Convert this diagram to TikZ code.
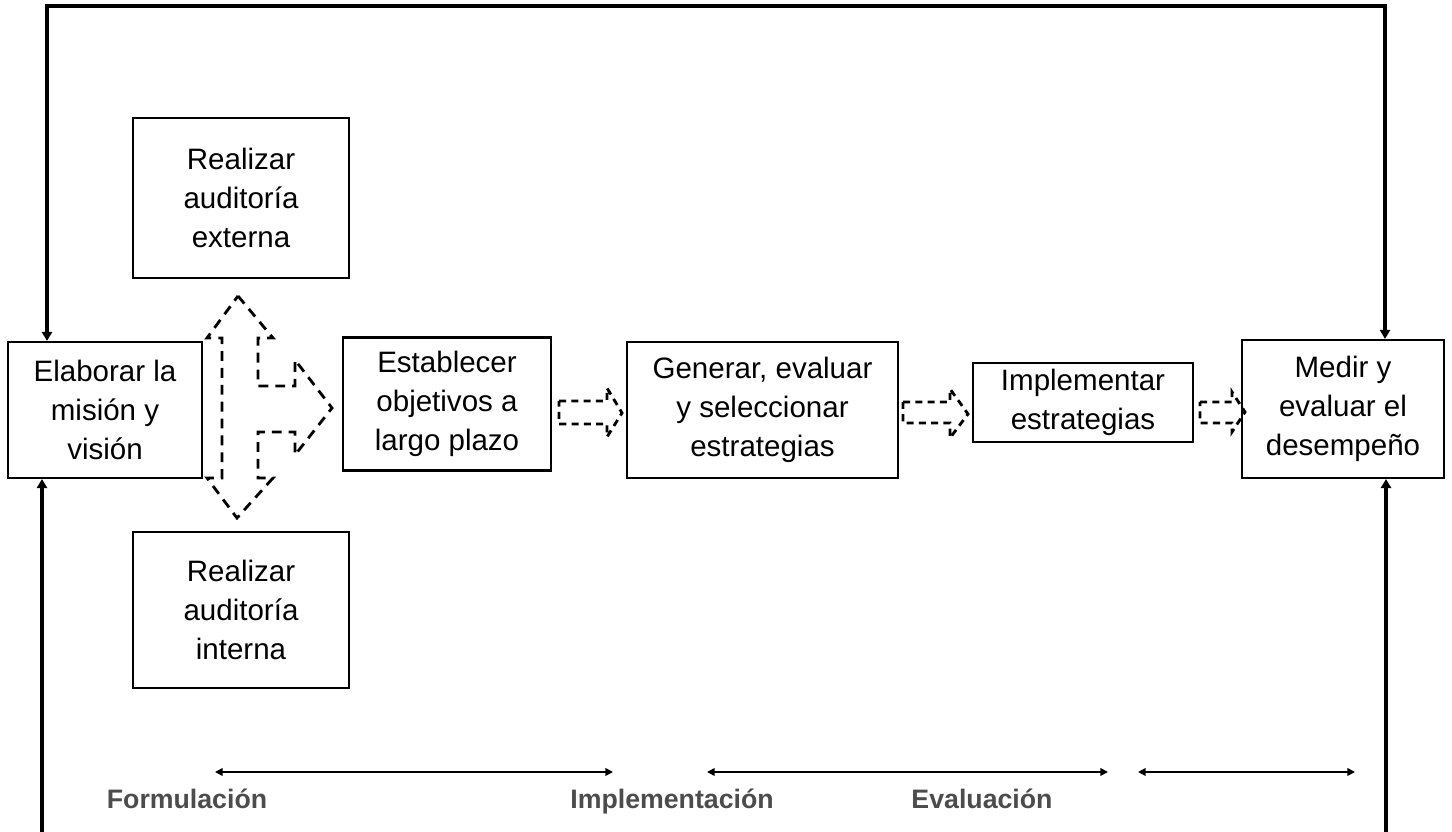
\documentclass[tikz,border=0pt]{standalone}
\usepackage{fontspec}
\setmainfont{Liberation Sans}
\usetikzlibrary{arrows.meta}
\definecolor{fasegray}{rgb}{.3,.3,.3}

\begin{document}
\begin{tikzpicture}[
    caja/.style={draw,line width=0.6pt,align=center,inner sep=0pt,
      font=\fontsize{8.4}{11}\selectfont},
    bloque/.style={dash pattern=on 2.8pt off 2pt,line width=0.8pt},
    bloquito/.style={dash pattern=on 2pt off 1.5pt,line width=0.8pt},
    retro/.style={line width=0.9pt,{Triangle[length=2.6pt,width=2.9pt]}-{Triangle[length=2.6pt,width=2.9pt]}},
    entra/.style={line width=0.9pt,-{Triangle[length=2.6pt,width=2.9pt]}},
    etapa/.style={line width=0.5pt,{Triangle[length=2.2pt,width=2.2pt]}-{Triangle[length=2.2pt,width=2.2pt]}},
    fase/.style={font=\bfseries\fontsize{7.6}{9}\selectfont,text=fasegray,anchor=base}]
  \useasboundingbox (0,0) rectangle (14.52,8.32);

  % cajas
  \node[caja,minimum width=1.94cm,minimum height=1.36cm] (mision) at (1.05,4.22)
    {Elaborar la\\misión y\\visión};
  \node[caja,minimum width=2.16cm,minimum height=1.60cm] (externa) at (2.41,6.34)
    {Realizar\\auditoría\\externa};
  \node[caja,minimum width=2.16cm,minimum height=1.56cm] (interna) at (2.41,2.22)
    {Realizar\\auditoría\\interna};
  \node[caja,minimum width=2.08cm,minimum height=1.33cm] (objetivos) at (4.47,4.28)
    {Establecer\\objetivos a\\largo plazo};
  \node[caja,minimum width=2.71cm,minimum height=1.36cm] (generar) at (7.625,4.22)
    {Generar, evaluar\\y seleccionar\\estrategias};
  \node[caja,minimum width=2.20cm,minimum height=0.79cm] (implementar) at (10.83,4.295)
    {Implementar\\estrategias};
  \node[caja,minimum width=2.02cm,minimum height=1.38cm] (medir) at (13.43,4.23)
    {Medir y\\evaluar el\\desempeño};

  % flecha de auditorias
  \draw[bloque] (2.38,5.36) -- (2.73,4.94) -- (2.58,4.94) -- (2.58,4.46)
    -- (2.95,4.46) -- (2.95,4.72) -- (3.32,4.24) -- (2.95,3.77) -- (2.95,4.00)
    -- (2.58,4.00) -- (2.58,3.54) -- (2.73,3.54) -- (2.37,3.14) -- (2.07,3.54)
    -- (2.22,3.54) -- (2.22,4.94) -- (2.07,4.94) -- cycle;

  % flechas entre pasos
  \draw[bloquito] (5.59,4.31) -- (6.07,4.31) -- (6.07,4.44) -- (6.22,4.19)
    -- (6.07,3.95) -- (6.07,4.08) -- (5.59,4.08) -- cycle;
  \draw[bloquito] (9.03,4.30) -- (9.50,4.30) -- (9.50,4.43) -- (9.68,4.18)
    -- (9.50,3.94) -- (9.50,4.09) -- (9.03,4.09) -- cycle;
  \draw[bloquito] (12.00,4.30) -- (12.32,4.30) -- (12.32,4.40) -- (12.45,4.20)
    -- (12.32,4.00) -- (12.32,4.09) -- (12.00,4.09) -- cycle;

  % retroalimentacion
  \coordinate (arribaI) at (0.47,8.26);
  \coordinate (arribaD) at (13.85,8.26);
  \draw[retro] (arribaI |- mision.north) -- (arribaI) -- (arribaD)
    -- (arribaD |- medir.north);
  \coordinate (abajoI) at (0.42,0);
  \coordinate (abajoD) at (13.86,0);
  \draw[entra] (abajoI) -- (abajoI |- mision.south);
  \draw[entra] (abajoD) -- (abajoD |- medir.south);

  % etapas
  \coordinate (f1) at (2.15,0.60);
  \coordinate (f2) at (6.13,0.60);
  \coordinate (i1) at (7.07,0.60);
  \coordinate (i2) at (11.08,0.60);
  \coordinate (e1) at (11.38,0.60);
  \coordinate (e2) at (13.55,0.60);
  \draw[etapa] (f1) -- (f2);
  \draw[etapa] (i1) -- (i2);
  \draw[etapa] (e1) -- (e2);

  \node[fase] (formulacion) at (1.87,0.23) {Formulación};
  \node[fase] (implementacion) at (6.72,0.23) {Implementación};
  \node[fase] (evaluacion) at (9.82,0.23) {Evaluación};
\end{tikzpicture}
\end{document}
